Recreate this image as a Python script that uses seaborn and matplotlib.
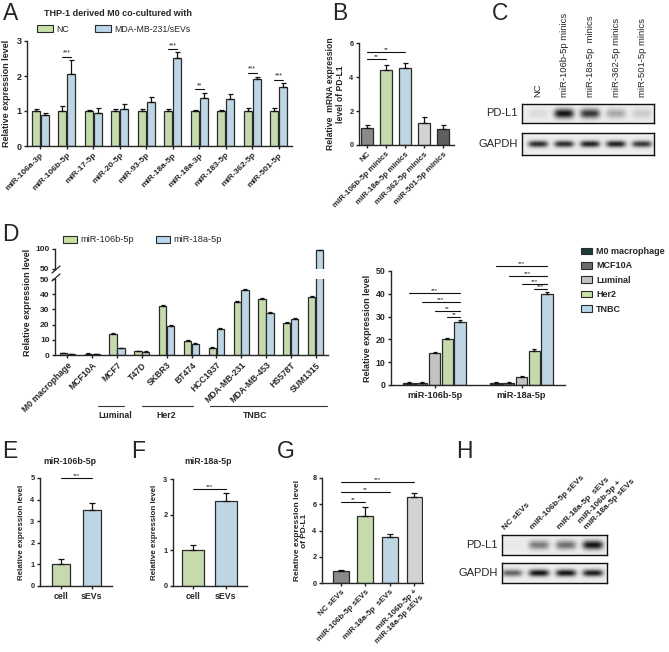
import numpy as np
import pandas as pd
import matplotlib
matplotlib.use('Agg')
import matplotlib.pyplot as plt
from matplotlib.patches import Patch
from matplotlib.lines import Line2D
import seaborn as sns

# ---------------- data ----------------
# A
mirs_A = ['miR-106a-3p', 'miR-106b-5p', 'miR-17-5p', 'miR-20-5p', 'miR-93-5p',
          'miR-18a-5p', 'miR-18a-3p', 'miR-183-5p', 'miR-362-5p', 'miR-501-5p']
nc_A = [1.0, 1.0, 1.0, 1.0, 1.0, 1.0, 1.0, 1.0, 1.0, 1.0]
nc_A_err = [0.05, 0.14, 0.04, 0.05, 0.05, 0.07, 0.03, 0.03, 0.08, 0.08]
sev_A = [0.9, 2.05, 0.95, 1.07, 1.27, 2.52, 1.37, 1.33, 1.92, 1.68]
sev_A_err = [0.03, 0.42, 0.13, 0.12, 0.13, 0.16, 0.15, 0.15, 0.06, 0.13]
sig_A_idx = [1, 5, 6, 8, 9]
sig_A_txt = ['***', '***', '**', '***', '***']
sig_A_y = [2.55, 2.77, 1.63, 2.09, 1.89]

# B
labels_B = ['NC', 'miR-106b-5p minics', 'miR-18a-5p minics', 'miR-362-5p minics', 'miR-501-5p minics']
vals_B = [1.0, 4.4, 4.5, 1.3, 0.95]
err_B = [0.2, 0.3, 0.3, 0.35, 0.2]

# C (band intensity, 0-1)
lanes_C = ['NC', 'miR-106b-5p minics', 'miR-18a-5p  minics', 'miR-362-5p minics', 'miR-501-5p minics']
pdl1_C = [0.08, 0.95, 0.8, 0.3, 0.15]
gapdh_C = [0.85, 0.85, 0.9, 0.9, 0.8]

# D left
cells_D = ['M0 macrophage', 'MCF10A', 'MCF7', 'T47D', 'SKBR3', 'BT474', 'HCC1937',
           'MDA-MB-231', 'MDA-MB-453', 'HS578T', 'SUM1315']
mir106b_D = [1.0, 0.8, 14.0, 2.5, 32.3, 9.0, 4.5, 35.0, 37.0, 21.0, 38.3]
mir106b_D_err = [0.2, 0.2, 0.6, 0.3, 0.7, 0.6, 0.5, 0.4, 0.6, 0.5, 0.8]
mir18a_D = [0.8, 0.8, 4.5, 2.3, 19.0, 7.5, 17.3, 43.0, 27.5, 24.0, 97.0]
mir18a_D_err = [0.1, 0.1, 0.4, 0.2, 0.5, 0.4, 0.5, 0.5, 0.6, 0.5, 0.8]
subtypes_D = ['Luminal', 'Her2', 'TNBC']
subtype_span = [(1.25, 2.3), (3.0, 5.05), (5.75, 10.45)]
subtype_text_x = [1.92, 4.0, 7.55]

# D right
types_DR = ['M0 macrophage', 'MCF10A', 'Luminal', 'Her2', 'TNBC']
genes_DR = ['miR-106b-5p', 'miR-18a-5p']
vals_DR_106b = [1.0, 0.8, 14.0, 20.0, 27.6]
vals_DR_18a = [0.8, 0.8, 3.5, 15.0, 40.0]
err_DR_106b = [0.4, 0.3, 0.5, 0.8, 0.8]
err_DR_18a = [0.3, 0.3, 0.5, 0.7, 0.8]
sig_DR_106b = [40.4, 36.3, 32.5, 30.0]
sig_DR_106b_txt = ['***', '***', '**', '**']
sig_DR_18a = [52.0, 47.8, 44.3, 42.0]
sig_DR_18a_txt = ['***', '***', '***', '***']

# E / F
src_EF = ['cell', 'sEVs']
vals_E = [1.0, 3.5]
err_E = [0.25, 0.35]
vals_F = [1.0, 2.37]
err_F = [0.15, 0.25]

# G
labels_G = ['NC sEVs', 'miR-106b-5p sEVs', 'miR-18a-5p  sEVs', 'miR-106b-5p +\nmiR-18a-5p sEVs']
vals_G = [0.92, 5.1, 3.5, 6.55]
err_G = [0.06, 0.7, 0.2, 0.3]
sig_G_idx = [1, 2, 3]
sig_G_txt = ['**', '**', '***']
sig_G_y = [6.17, 6.93, 7.7]

# H
pdl1_H = [0.03, 0.5, 0.55, 0.95]
gapdh_H = [0.6, 0.95, 0.95, 0.9]

# ---------------- style ----------------
sns.set_theme(style='ticks')
plt.rcParams['font.family'] = ['Liberation Sans', 'DejaVu Sans']
plt.rcParams['font.weight'] = 'bold'
plt.rcParams['axes.labelweight'] = 'bold'
plt.rcParams['axes.linewidth'] = 1.0

GREEN = '#c7e2a6'
BLUE = '#b8d7ea'
EDGE = '#2a2a2a'
W, H = 669, 652

fig = plt.figure(figsize=(W / 100, H / 100), dpi=100)


def box(x0, y0, x1, y1):
    return fig.add_axes([x0 / W, 1 - y1 / H, (x1 - x0) / W, (y1 - y0) / H])


def prism(ax, fs=6):
    sns.despine(ax=ax)
    ax.tick_params(length=2.5, width=1.0, labelsize=fs, pad=1.5, color='#222222')
    ax.set_xlabel('')
    ax.set_ylabel('')


def bars(ax, **kw):
    sns.barplot(ax=ax, errorbar=None, edgecolor=EDGE, linewidth=0.9, legend=False, **kw)


def up_err(ax, container, errs, cap=1.8):
    xs = [b.get_x() + b.get_width() / 2 for b in container]
    hs = [b.get_height() for b in container]
    ax.errorbar(xs, hs, yerr=[np.zeros(len(errs)), errs], fmt='none', ecolor='#111111',
                elinewidth=0.9, capsize=cap, capthick=0.9)


def sig(ax, x1, x2, y, txt, fs=5):
    ax.plot([x1, x2], [y, y], color='#111111', lw=0.8, clip_on=False)
    ax.text((x1 + x2) / 2, y, txt, ha='center', va='bottom', fontsize=fs,
            fontweight='normal', clip_on=False)


def letter(x, y, s):
    fig.text(x / W, 1 - y / H, s, fontsize=16.5, fontweight='normal', ha='left', va='top')


def rot(ax, fs, angle=45):
    for t in ax.get_xticklabels():
        t.set_rotation(angle)
        t.set_ha('right')
        t.set_rotation_mode('anchor')
        t.set_fontsize(fs)


def blot(ax, vals, xlim, sx=0.38, sy=0.35, bg=0.93):
    xs = np.linspace(xlim[0], xlim[1], 400)
    ys = np.linspace(-1, 1, 80)
    X, Y = np.meshgrid(xs, ys)
    dark = np.zeros_like(X)
    for i, v in enumerate(vals):
        dark += v * np.exp(-(np.abs(X - i) / sx) ** 4) * np.exp(-(Y / sy) ** 2)
    img = bg - 0.9 * np.clip(dark, 0, 1)
    ax.imshow(img, cmap='gray', vmin=0, vmax=1, extent=(xlim[0], xlim[1], -1, 1),
              aspect='auto', interpolation='bilinear')
    ax.set_xlim(*xlim)
    ax.set_ylim(-1, 1)
    ax.set_xticks([])
    ax.set_yticks([])
    for s in ax.spines.values():
        s.set_visible(True)
        s.set_linewidth(1.0)
        s.set_color('#111111')


# ---------------- A ----------------
axA = box(27, 41, 292, 146)
dfA = pd.DataFrame({'miRNA': mirs_A * 2,
                    'group': ['NC'] * len(mirs_A) + ['MDA-MB-231/sEVs'] * len(mirs_A),
                    'level': nc_A + sev_A})
bars(axA, data=dfA, x='miRNA', y='level', hue='group', palette=[GREEN, BLUE], width=0.66, gap=0.08)
up_err(axA, axA.containers[0], nc_A_err)
up_err(axA, axA.containers[1], sev_A_err)
for i, t, y in zip(sig_A_idx, sig_A_txt, sig_A_y):
    b0, b1 = axA.containers[0][i], axA.containers[1][i]
    sig(axA, b0.get_x() + b0.get_width() / 2, b1.get_x() + b1.get_width() / 2, y, t)
axA.set_ylim(0, 3)
axA.set_yticks([0, 1, 2, 3])
axA.set_xlim(-0.5, 9.5)
prism(axA, 6.5)
rot(axA, 6)
axA.set_ylabel('Relative expression level', fontsize=6.5, labelpad=4)
fig.text(118 / W, 1 - 13 / H, 'THP-1 derived M0 co-cultured with', ha='center', va='center', fontsize=6.5)
fig.legend([Patch(facecolor=GREEN, edgecolor=EDGE, lw=0.8), Patch(facecolor=BLUE, edgecolor=EDGE, lw=0.8)],
           ['NC', 'MDA-MB-231/sEVs'], loc='center left', bbox_to_anchor=(37 / W, 1 - 29 / H),
           ncol=2, frameon=False, prop={'size': 6.3, 'weight': 'normal'}, handlelength=1.8,
           handleheight=0.9, handletextpad=0.45, columnspacing=2.9, borderpad=0, borderaxespad=0)
letter(3, 2, 'A')

# ---------------- B ----------------
axB = box(359, 43, 454, 145)
bars(axB, x=labels_B, y=vals_B, hue=labels_B, palette=['#8a8a8a', GREEN, BLUE, '#d3d3d3', '#5f5f5f'],
     width=0.62)
up_err(axB, axB.patches, err_B)
sig(axB, 0, 1, 5.06, '**', 4.5)
sig(axB, 0, 2, 5.47, '**', 4.5)
axB.set_ylim(0, 6)
axB.set_yticks([0, 2, 4, 6])
axB.set_xlim(-0.42, 4.58)
prism(axB, 5.3)
rot(axB, 5.8)
axB.set_ylabel('Relative  mRNA expression\nlevel of PD-L1', fontsize=6.2, labelpad=3, linespacing=1.1)
letter(332, 2, 'B')

# ---------------- C ----------------
xlimC = (-0.62, 4.46)
axC1 = box(522, 104, 654, 123)
blot(axC1, pdl1_C, xlimC, sy=0.5)
axC2 = box(522, 133, 654, 155)
blot(axC2, gapdh_C, xlimC, sy=0.3)
for i, lab in enumerate(lanes_C):
    axC1.text(i, 1.37, lab, transform=axC1.get_xaxis_transform(), rotation=90, ha='center',
              va='bottom', fontsize=6.8, fontweight='normal')
fig.text(518 / W, 1 - 113 / H, 'PD-L1', ha='right', va='center', fontsize=8, fontweight='normal')
fig.text(518 / W, 1 - 144 / H, 'GAPDH', ha='right', va='center', fontsize=8, fontweight='normal')
letter(492, 2, 'C')

# ---------------- D left (broken axis) ----------------
dfD = pd.DataFrame({'cell': cells_D * 2,
                    'mir': ['miR-106b-5p'] * len(cells_D) + ['miR-18a-5p'] * len(cells_D),
                    'level': mir106b_D + mir18a_D})
axDL = box(55, 279, 328, 355)
axDU = box(55, 249, 328, 269)
for ax in (axDL, axDU):
    bars(ax, data=dfD, x='cell', y='level', hue='mir', palette=[GREEN, BLUE], width=0.64, gap=0.08)
    up_err(ax, ax.containers[0], mir106b_D_err, cap=1.5)
    up_err(ax, ax.containers[1], mir18a_D_err, cap=1.5)
    ax.set_xlim(-0.5, 10.5)
    prism(ax, 6.0)
axDL.set_ylim(0, 50)
axDL.set_yticks([0, 10, 20, 30, 40, 50])
rot(axDL, 6.2)
axDU.set_ylim(50, 100)
axDU.set_yticks([50, 100])
axDU.spines['bottom'].set_visible(False)
axDU.tick_params(axis='x', bottom=False, labelbottom=False)
for yb in (271, 279):
    fig.add_artist(Line2D([52 / W, 60 / W], [1 - (yb + 2) / H, 1 - (yb - 5) / H],
                          transform=fig.transFigure, color='#222222', lw=0.9))
fig.text(28 / W, 1 - 302 / H, 'Relative expression level', rotation=90, ha='center', va='center', fontsize=6.5)
for name, (s0, s1), tx in zip(subtypes_D, subtype_span, subtype_text_x):
    axDL.plot([s0, s1], [-0.667, -0.667], transform=axDL.get_xaxis_transform(), color='#333333',
              lw=0.8, clip_on=False)
    axDL.text(tx, -0.8, name, transform=axDL.get_xaxis_transform(), ha='center', va='center', fontsize=6.3)
fig.legend([Patch(facecolor=GREEN, edgecolor=EDGE, lw=0.8), Patch(facecolor=BLUE, edgecolor=EDGE, lw=0.8)],
           ['miR-106b-5p', 'miR-18a-5p'], loc='center left', bbox_to_anchor=(63 / W, 1 - 240 / H),
           ncol=2, frameon=False, prop={'size': 6.7, 'weight': 'normal'}, handlelength=1.5,
           handleheight=0.8, handletextpad=0.35, columnspacing=2.4, borderpad=0, borderaxespad=0)
letter(2, 223, 'D')

# ---------------- D right ----------------
axDR = box(391, 271, 565, 385)
dfDR = pd.DataFrame({'gene': [genes_DR[0]] * 5 + [genes_DR[1]] * 5,
                     'type': types_DR * 2,
                     'level': vals_DR_106b + vals_DR_18a})
colors_DR = ['#1f3d3a', '#6d6d6d', '#c3c3c3', GREEN, BLUE]
bars(axDR, data=dfDR, x='gene', y='level', hue='type', hue_order=types_DR, palette=colors_DR,
     width=0.74, gap=0.1)
for k in range(5):
    up_err(axDR, axDR.containers[k], [err_DR_106b[k], err_DR_18a[k]], cap=1.6)
for g, (ys, ts) in enumerate([(sig_DR_106b, sig_DR_106b_txt), (sig_DR_18a, sig_DR_18a_txt)]):
    tb = axDR.containers[4][g]
    xe = tb.get_x() + tb.get_width() / 2
    for k, (y, t) in enumerate(zip(ys, ts)):
        b = axDR.containers[k][g]
        sig(axDR, b.get_x() + b.get_width() / 2, xe, y, t, 4.5)
axDR.set_ylim(0, 50)
axDR.set_yticks([0, 10, 20, 30, 40, 50])
axDR.set_xlim(-0.5, 1.5)
prism(axDR, 6.3)
for t in axDR.get_xticklabels():
    t.set_fontsize(6.6)
axDR.set_ylabel('Relative expression level', fontsize=6.5, labelpad=3)
fig.legend([Patch(facecolor=c, edgecolor=EDGE, lw=0.8) for c in colors_DR], types_DR,
           loc='upper left', bbox_to_anchor=(581 / W, 1 - 247 / H), frameon=False,
           prop={'size': 6.5, 'weight': 'bold'}, handlelength=1.2, handleheight=0.75,
           handletextpad=0.5, labelspacing=0.6, borderpad=0, borderaxespad=0)

# ---------------- E ----------------
axE = box(40, 478, 112, 586)
bars(axE, x=src_EF, y=vals_E, hue=src_EF, palette=[GREEN, BLUE], width=0.6)
up_err(axE, axE.patches, err_E, cap=2.2)
sig(axE, 0, 1, 5.0, '***', 4.5)
axE.set_ylim(0, 5)
axE.set_yticks([0, 1, 2, 3, 4, 5])
axE.set_xlim(-0.68, 1.65)
prism(axE, 5.3)
for t in axE.get_xticklabels():
    t.set_fontsize(6.3)
axE.set_ylabel('Relative expression level', fontsize=5.8, labelpad=4)
fig.text(70 / W, 1 - 461 / H, 'miR-106b-5p', ha='center', va='center', fontsize=6.3)
letter(2, 440, 'E')

# ---------------- F ----------------
axF = box(173, 479, 247, 586)
bars(axF, x=src_EF, y=vals_F, hue=src_EF, palette=[GREEN, BLUE], width=0.65)
up_err(axF, axF.patches, err_F, cap=2.2)
sig(axF, 0, 1, 2.72, '***', 4.5)
axF.set_ylim(0, 3)
axF.set_yticks([0, 1, 2, 3])
axF.set_xlim(-0.6, 1.64)
prism(axF, 5.3)
for t in axF.get_xticklabels():
    t.set_fontsize(6.3)
axF.set_ylabel('Relative expression level', fontsize=5.8, labelpad=4)
fig.text(208 / W, 1 - 461 / H, 'miR-18a-5p', ha='center', va='center', fontsize=6.3)
letter(131, 440, 'F')

# ---------------- G ----------------
axG = box(322, 478, 423, 583)
bars(axG, x=labels_G, y=vals_G, hue=labels_G, palette=['#8a8a8a', GREEN, BLUE, '#d3d3d3'], width=0.64)
up_err(axG, axG.patches, err_G, cap=2.0)
for i, t, y in zip(sig_G_idx, sig_G_txt, sig_G_y):
    sig(axG, 0, i, y, t, 4.5)
axG.set_ylim(0, 8)
axG.set_yticks([0, 2, 4, 6, 8])
axG.set_xlim(-0.76, 3.35)
prism(axG, 5.3)
rot(axG, 5.8)
axG.set_ylabel('Relative expression level\nof PD-L1', fontsize=6.0, labelpad=3, linespacing=1.1)
letter(277, 440, 'G')

# ---------------- H ----------------
xlimH = (-0.37, 3.52)
axH1 = box(502, 535, 607, 555)
blot(axH1, pdl1_H, xlimH, sy=0.45)
axH2 = box(502, 563, 607, 583)
blot(axH2, gapdh_H, xlimH, sy=0.35)
for i, lab in enumerate(labels_G):
    axH1.text(i - 0.2, 1.2, lab, transform=axH1.get_xaxis_transform(), rotation=45,
              rotation_mode='anchor', ha='left', va='bottom', fontsize=6.0)
fig.text(498 / W, 1 - 545 / H, 'PD-L1', ha='right', va='center', fontsize=8, fontweight='normal')
fig.text(498 / W, 1 - 573 / H, 'GAPDH', ha='right', va='center', fontsize=8, fontweight='normal')
letter(456, 440, 'H')

fig.savefig('out.png', dpi=100)
